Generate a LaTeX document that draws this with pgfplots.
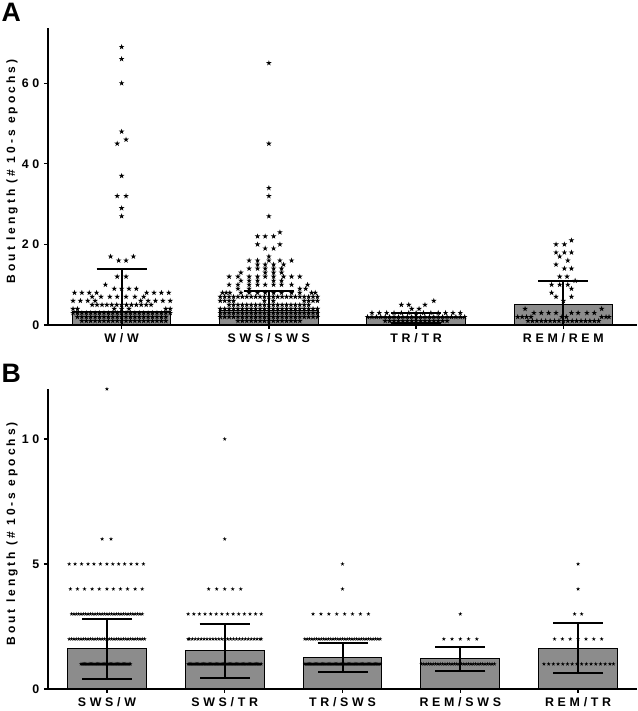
\documentclass[border=0pt]{standalone}
\usepackage{fontspec}
\setmainfont{Liberation Sans}
\newfontfamily\lsx[LetterSpace=30]{Liberation Sans Bold}
\newfontfamily\lsy[LetterSpace=25]{Liberation Sans Bold}
\usepackage{pgfplots}
\pgfplotsset{compat=1.18}
\definecolor{barfill}{RGB}{140,140,140}
\pgfdeclareplotmark{fstar}{%
  \pgfpathmoveto{\pgfqpoint{0pt}{\pgfplotmarksize}}%
  \pgfpathlineto{\pgfqpoint{-0.2245\pgfplotmarksize}{0.309\pgfplotmarksize}}%
  \pgfpathlineto{\pgfqpoint{-0.951\pgfplotmarksize}{0.309\pgfplotmarksize}}%
  \pgfpathlineto{\pgfqpoint{-0.3633\pgfplotmarksize}{-0.118\pgfplotmarksize}}%
  \pgfpathlineto{\pgfqpoint{-0.588\pgfplotmarksize}{-0.809\pgfplotmarksize}}%
  \pgfpathlineto{\pgfqpoint{0pt}{-0.382\pgfplotmarksize}}%
  \pgfpathlineto{\pgfqpoint{0.588\pgfplotmarksize}{-0.809\pgfplotmarksize}}%
  \pgfpathlineto{\pgfqpoint{0.3633\pgfplotmarksize}{-0.118\pgfplotmarksize}}%
  \pgfpathlineto{\pgfqpoint{0.951\pgfplotmarksize}{0.309\pgfplotmarksize}}%
  \pgfpathlineto{\pgfqpoint{0.2245\pgfplotmarksize}{0.309\pgfplotmarksize}}%
  \pgfpathclose\pgfusepathqfill}
\pgfplotsset{panel/.style={
  scale only axis, width=441.75pt,
  axis x line*=bottom, axis y line*=left,
  axis line style={line width=1pt,-},
  xmin=-0.5, ymin=0,
  tick align=outside, major tick length=3pt,
  tick style={line width=1pt, black},
  tick label style={font=\lsx\fontsize{9.3}{10}\selectfont},
  /pgf/number format/assume math mode=true,
  ylabel={Bout length (\# 10-s epochs)},
  ylabel style={font=\lsy\fontsize{9}{10}\selectfont, at={(axis description cs:-0.061,0.517)}, anchor=center},
  clip mode=individual,
}}
\begin{document}
\begin{tikzpicture}
\path[use as bounding box] (0,0) rectangle (477.75pt,533.25pt);
\node[anchor=base west, inner sep=0pt, font=\bfseries\fontsize{20}{20}\selectfont] at (1pt,516.75pt) {A};
\node[anchor=base west, inner sep=0pt, font=\bfseries\fontsize{20}{20}\selectfont] at (1pt,246pt) {B};
% ---------------- Panel A
\begin{axis}[panel, at={(36pt,289.5pt)}, anchor=south west, height=222.75pt,
  xmax=3.5, ymax=73.7, xtick={0,1,2,3}, xticklabels={W/W,SWS/SWS,TR/TR,REM/REM},
  ytick={0,20,40,60}]
\addplot[ybar, bar width=0.67, bar shift=0pt, fill=barfill, draw=black, line width=0.75pt]
  coordinates {(0,3.3)(1,3.5)(2,1.75)(3,5.2)};
% W/W
\addplot[only marks, mark=fstar, mark size=2.2pt, black] coordinates {
(0,69)(0,66)(0,60)(0,48)(0.03,46)(-0.03,45)(0,37)(-0.03,32)(0.03,32)(0,29)(0,27)
(-0.075,17)(0.08,17)(-0.02,16)(0.03,16)(-0.03,12)(0.03,12)(-0.11,10)
(-0.05,9)(0,9)(0.05,9)(0.1,9)
(-0.32,8)(-0.27,8)(-0.22,8)(-0.17,8)(0.17,8)(0.22,8)(0.27,8)(0.32,8)
(-0.2,7)(-0.14,7)(-0.08,7)(-0.03,7)(0.03,7)(0.09,7)(0.15,7)
(-0.33,6)(-0.28,6)(-0.23,6)(-0.18,6)(0.13,6)(0.18,6)(0.23,6)(0.28,6)(0.33,6)
(-0.2,5)(-0.167,5)(-0.133,5)(-0.1,5)(-0.067,5)(-0.033,5)(0,5)(0.033,5)(0.067,5)(0.1,5)(0.133,5)(0.167,5)(0.2,5)
(-0.33,4)(-0.3,4)(-0.05,4)(0,4)(0.05,4)(0.3,4)(0.33,4)
(-0.33,3)(-0.3,3)(-0.27,3)(-0.24,3)(-0.21,3)(-0.18,3)(-0.15,3)(-0.12,3)(-0.09,3)(-0.06,3)(-0.03,3)(0,3)(0.03,3)(0.06,3)(0.09,3)(0.12,3)(0.15,3)(0.18,3)(0.21,3)(0.24,3)(0.27,3)(0.3,3)(0.33,3)
(-0.3,2)(-0.27,2)(-0.24,2)(-0.21,2)(-0.18,2)(-0.15,2)(-0.12,2)(-0.09,2)(-0.06,2)(-0.03,2)(0,2)(0.03,2)(0.06,2)(0.09,2)(0.12,2)(0.15,2)(0.18,2)(0.21,2)(0.24,2)(0.27,2)(0.3,2)
(-0.27,1)(-0.24,1)(-0.21,1)(-0.18,1)(-0.15,1)(-0.12,1)(-0.09,1)(-0.06,1)(-0.03,1)(0,1)(0.03,1)(0.06,1)(0.09,1)(0.12,1)(0.15,1)(0.18,1)(0.21,1)(0.24,1)(0.27,1)(0.3,1)
};
% SWS/SWS
\addplot[only marks, mark=fstar, mark size=2.2pt, black] coordinates {
(1,65)(1,45)(1,34)(1,32)(1,27)(1.075,23)(0.923,22)(0.975,22)(1.032,22)(0.923,20)(1.075,20)(0.975,19)(1.032,19)(1,17)
(0.866,16)(0.923,16)(1,16)(1.075,16)(1.154,16)
(0.923,15)(0.975,15)(1.032,15)(1.1,15)
(0.866,14)(0.923,14)(0.975,14)(1.032,14)(1.086,14)
(0.81,13)(0.975,13)(1.032,13)(1.086,13)
(0.73,12)(0.79,12)(0.866,12)(0.923,12)(0.975,12)(1.032,12)(1.1,12)(1.154,12)(1.21,12)
(0.81,11)(0.866,11)(0.923,11)(1.032,11)(1.086,11)
(0.73,10)(0.79,10)(0.866,10)(0.923,10)(0.975,10)(1.032,10)(1.086,10)(1.154,10)(1.263,10)
(0.79,9)(0.866,9)(1.21,9)(1.25,9)
(0.685,8)(0.71,8)(0.735,8)(0.81,8)(0.866,8)(0.923,8)(0.975,8)(1.032,8)(1.086,8)(1.154,8)(1.21,8)(1.29,8)(1.315,8)
(0.67,7)(0.7,7)(0.73,7)(0.76,7)(0.79,7)(0.82,7)(0.85,7)(0.88,7)(0.91,7)(0.94,7)(0.97,7)(1,7)(1.03,7)(1.06,7)(1.09,7)(1.12,7)(1.15,7)(1.18,7)(1.21,7)(1.24,7)(1.27,7)(1.3,7)(1.33,7)
(0.67,6)(0.7,6)(0.73,6)(0.76,6)(0.97,6)(1.03,6)(1.24,6)(1.27,6)(1.3,6)(1.33,6)
(0.73,5)(0.76,5)(0.79,5)(0.82,5)(0.85,5)(0.88,5)(0.91,5)(0.94,5)(0.97,5)(1,5)(1.03,5)(1.06,5)(1.09,5)(1.12,5)(1.15,5)(1.18,5)(1.21,5)(1.24,5)(1.27,5)
(0.67,4)(0.7,4)(0.73,4)(0.76,4)(0.79,4)(0.82,4)(0.85,4)(0.88,4)(0.91,4)(0.94,4)(0.97,4)(1,4)(1.03,4)(1.06,4)(1.09,4)(1.12,4)(1.15,4)(1.18,4)(1.21,4)(1.24,4)(1.27,4)(1.3,4)(1.33,4)
(0.67,3)(0.7,3)(0.73,3)(0.76,3)(0.79,3)(0.82,3)(0.85,3)(0.88,3)(0.91,3)(0.94,3)(0.97,3)(1,3)(1.03,3)(1.06,3)(1.09,3)(1.12,3)(1.15,3)(1.18,3)(1.21,3)(1.24,3)(1.27,3)(1.3,3)(1.33,3)
(0.67,2)(0.7,2)(0.73,2)(0.76,2)(0.79,2)(0.82,2)(0.85,2)(0.88,2)(0.91,2)(0.94,2)(0.97,2)(1,2)(1.03,2)(1.06,2)(1.09,2)(1.12,2)(1.15,2)(1.18,2)(1.21,2)(1.24,2)(1.27,2)(1.3,2)(1.33,2)
(0.79,1)(0.82,1)(0.85,1)(0.88,1)(0.91,1)(0.94,1)(0.97,1)(1,1)(1.03,1)(1.06,1)(1.09,1)(1.12,1)(1.15,1)(1.18,1)(1.21,1)
};
% TR/TR
\addplot[only marks, mark=fstar, mark size=2.2pt, black] coordinates {
(2.12,6)(1.9,5)(1.95,5)(2.06,5)(1.97,4)(2.02,4)
(1.7,3)(1.75,3)(1.8,3)(1.85,3)(1.9,3)(1.95,3)(2,3)(2.05,3)(2.1,3)(2.15,3)(2.2,3)(2.25,3)(2.3,3)
(1.67,2)(1.7,2)(1.73,2)(1.76,2)(1.79,2)(1.82,2)(1.85,2)(1.88,2)(1.91,2)(1.94,2)(1.97,2)(2,2)(2.03,2)(2.06,2)(2.09,2)(2.12,2)(2.15,2)(2.18,2)(2.21,2)(2.24,2)(2.27,2)(2.3,2)(2.33,2)
(1.79,1)(1.82,1)(1.85,1)(1.88,1)(1.91,1)(1.94,1)(1.97,1)(2,1)(2.03,1)(2.06,1)(2.09,1)(2.12,1)(2.15,1)(2.18,1)(2.21,1)
};
% REM/REM
\addplot[only marks, mark=fstar, mark size=2.2pt, black] coordinates {
(3.055,21)(2.95,20)(3.007,20)(2.95,18)(3.007,18)(3.055,18)(2.975,17)(3.03,16)(2.95,15)(3.007,14)(3.055,14)
(2.975,12)(3.025,12)(3.08,11)(2.92,10)(2.975,10)(3.03,10)(3.055,9)(2.92,8)(2.95,7)(3.055,7)(3,6)
(2.74,4)(3.26,4)
(2.8,3)(2.85,3)(2.9,3)(2.95,3)(3.055,3)(3.1,3)(3.16,3)(3.21,3)
(2.69,2)(2.72,2)(2.75,2)(2.78,2)(2.99,2)(3.02,2)(3.26,2)(3.29,2)(3.31,2)
(2.76,1)(2.79,1)(2.82,1)(2.85,1)(2.88,1)(2.91,1)(2.94,1)(2.97,1)(3,1)(3.03,1)(3.06,1)(3.09,1)(3.12,1)(3.15,1)(3.18,1)(3.21,1)(3.24,1)
};
\addplot[draw=none, mark=none, forget plot,
  error bars/.cd, y dir=both, y explicit,
  error bar style={draw=black, line width=1.5pt},
  error mark options={rotate=90, mark size=18.75pt, draw=black, line width=1.5pt}]
  coordinates {(0,3.3) +- (0,10.6) (1,3.5) +- (0,4.9) (2,1.75) +- (0,1.2) (3,5.2) +- (0,5.7)};
\end{axis}
% ---------------- Panel B
\begin{axis}[panel, at={(36pt,16.5pt)}, anchor=south west, height=225pt,
  xmax=4.5, ymax=12, xtick={0,1,2,3,4}, xticklabels={SWS/W,SWS/TR,TR/SWS,REM/SWS,REM/TR},
  ytick={0,5,10}]
\addplot[ybar, bar width=0.67, bar shift=0pt, fill=barfill, draw=black, line width=0.75pt]
  coordinates {(0,1.6)(1,1.52)(2,1.25)(3,1.2)(4,1.62)};
% SWS/W
\addplot[only marks, mark=fstar, mark size=1.6pt, black] coordinates {
(0,12)(-0.04,6)(0.035,6)
(-0.32,5)(-0.27,5)(-0.215,5)(-0.16,5)(-0.11,5)(-0.055,5)(0,5)(0.05,5)(0.1,5)(0.15,5)(0.205,5)(0.255,5)(0.31,5)
(-0.31,4)(-0.25,4)(-0.19,4)(-0.125,4)(-0.065,4)(0,4)(0.055,4)(0.115,4)(0.175,4)(0.24,4)(0.3,4)
(-0.3,3)(-0.28,3)(-0.26,3)(-0.24,3)(-0.22,3)(-0.2,3)(-0.18,3)(-0.16,3)(-0.14,3)(-0.12,3)(-0.1,3)(-0.08,3)(-0.06,3)(-0.04,3)(-0.02,3)(0,3)(0.02,3)(0.04,3)(0.06,3)(0.08,3)(0.1,3)(0.12,3)(0.14,3)(0.16,3)(0.18,3)(0.2,3)(0.22,3)(0.24,3)(0.26,3)(0.28,3)(0.3,3)
(-0.32,2)(-0.3,2)(-0.28,2)(-0.26,2)(-0.24,2)(-0.22,2)(-0.2,2)(-0.18,2)(-0.16,2)(-0.14,2)(-0.12,2)(-0.1,2)(-0.08,2)(-0.06,2)(-0.04,2)(-0.02,2)(0,2)(0.02,2)(0.04,2)(0.06,2)(0.08,2)(0.1,2)(0.12,2)(0.14,2)(0.16,2)(0.18,2)(0.2,2)(0.22,2)(0.24,2)(0.26,2)(0.28,2)(0.3,2)(0.32,2)
(-0.22,1)(-0.21,1)(-0.2,1)(-0.19,1)(-0.18,1)(-0.17,1)(-0.16,1)(-0.15,1)(-0.14,1)(-0.13,1)(-0.12,1)(-0.11,1)(-0.1,1)(-0.09,1)(-0.08,1)(-0.07,1)(-0.06,1)(-0.05,1)(-0.04,1)(-0.03,1)(-0.02,1)(-0.01,1)(0,1)(0.01,1)(0.02,1)(0.03,1)(0.04,1)(0.05,1)(0.06,1)(0.07,1)(0.08,1)(0.09,1)(0.1,1)(0.11,1)(0.12,1)(0.13,1)(0.14,1)(0.15,1)(0.16,1)(0.17,1)(0.18,1)(0.19,1)(0.2,1)
};
% SWS/TR
\addplot[only marks, mark=fstar, mark size=1.6pt, black] coordinates {
(1,10)(1,6)
(0.864,4)(0.932,4)(1,4)(1.068,4)(1.136,4)
(0.69,3)(0.738,3)(0.785,3)(0.833,3)(0.881,3)(0.928,3)(0.976,3)(1.024,3)(1.072,3)(1.119,3)(1.167,3)(1.215,3)(1.262,3)(1.31,3)
(0.69,2)(0.7,2)(0.725,2)(0.75,2)(0.775,2)(0.8,2)(0.825,2)(0.85,2)(0.875,2)(0.9,2)(0.925,2)(0.95,2)(0.975,2)(1,2)(1.025,2)(1.05,2)(1.075,2)(1.1,2)(1.125,2)(1.15,2)(1.175,2)(1.2,2)(1.225,2)(1.25,2)(1.275,2)(1.3,2)(1.31,2)
(0.69,1)(0.7,1)(0.71,1)(0.72,1)(0.73,1)(0.74,1)(0.75,1)(0.76,1)(0.77,1)(0.78,1)(0.79,1)(0.8,1)(0.81,1)(0.82,1)(0.83,1)(0.84,1)(0.85,1)(0.86,1)(0.87,1)(0.88,1)(0.89,1)(0.9,1)(0.91,1)(0.92,1)(0.93,1)(0.94,1)(0.95,1)(0.96,1)(0.97,1)(0.98,1)(0.99,1)(1,1)(1.01,1)(1.02,1)(1.03,1)(1.04,1)(1.05,1)(1.06,1)(1.07,1)(1.08,1)(1.09,1)(1.1,1)(1.11,1)(1.12,1)(1.13,1)(1.14,1)(1.15,1)(1.16,1)(1.17,1)(1.18,1)(1.19,1)(1.2,1)(1.21,1)(1.22,1)(1.23,1)(1.24,1)(1.25,1)(1.26,1)(1.27,1)(1.28,1)(1.29,1)(1.3,1)(1.31,1)
};
% TR/SWS
\addplot[only marks, mark=fstar, mark size=1.6pt, black] coordinates {
(2,5)(2,4)
(1.75,3)(1.817,3)(1.884,3)(1.951,3)(2.018,3)(2.085,3)(2.152,3)(2.22,3)
(1.68,2)(1.7,2)(1.72,2)(1.74,2)(1.76,2)(1.78,2)(1.8,2)(1.82,2)(1.84,2)(1.86,2)(1.88,2)(1.9,2)(1.92,2)(1.94,2)(1.96,2)(1.98,2)(2,2)(2.02,2)(2.04,2)(2.06,2)(2.08,2)(2.1,2)(2.12,2)(2.14,2)(2.16,2)(2.18,2)(2.2,2)(2.22,2)(2.24,2)(2.26,2)(2.28,2)(2.3,2)(2.32,2)
(1.68,1)(1.69,1)(1.7,1)(1.71,1)(1.72,1)(1.73,1)(1.74,1)(1.75,1)(1.76,1)(1.77,1)(1.78,1)(1.79,1)(1.8,1)(1.81,1)(1.82,1)(1.83,1)(1.84,1)(1.85,1)(1.86,1)(1.87,1)(1.88,1)(1.89,1)(1.9,1)(1.91,1)(1.92,1)(1.93,1)(1.94,1)(1.95,1)(1.96,1)(1.97,1)(1.98,1)(1.99,1)(2,1)(2.01,1)(2.02,1)(2.03,1)(2.04,1)(2.05,1)(2.06,1)(2.07,1)(2.08,1)(2.09,1)(2.1,1)(2.11,1)(2.12,1)(2.13,1)(2.14,1)(2.15,1)(2.16,1)(2.17,1)(2.18,1)(2.19,1)(2.2,1)(2.21,1)(2.22,1)(2.23,1)(2.24,1)(2.25,1)(2.26,1)(2.27,1)(2.28,1)(2.29,1)(2.3,1)(2.31,1)(2.32,1)
};
% REM/SWS
\addplot[only marks, mark=fstar, mark size=1.6pt, black] coordinates {
(3,3)
(2.86,2)(2.93,2)(3,2)(3.07,2)(3.14,2)
(2.67,1)(2.69,1)(2.71,1)(2.73,1)(2.75,1)(2.77,1)(2.79,1)(2.81,1)(2.83,1)(2.85,1)(2.87,1)(2.89,1)(2.91,1)(2.93,1)(2.95,1)(2.97,1)(2.99,1)(3.01,1)(3.03,1)(3.05,1)(3.07,1)(3.09,1)(3.11,1)(3.13,1)(3.15,1)(3.17,1)(3.19,1)(3.21,1)(3.23,1)(3.25,1)(3.27,1)(3.29,1)
};
% REM/TR
\addplot[only marks, mark=fstar, mark size=1.6pt, black] coordinates {
(4,5)(4,4)(3.97,3)(4.03,3)
(3.8,2)(3.867,2)(3.933,2)(4,2)(4.067,2)(4.133,2)(4.2,2)
(3.71,1)(3.75,1)(3.79,1)(3.83,1)(3.87,1)(3.91,1)(3.95,1)(3.99,1)(4.03,1)(4.07,1)(4.11,1)(4.15,1)(4.19,1)(4.23,1)(4.27,1)(4.3,1)
};
\addplot[draw=none, mark=none, forget plot,
  error bars/.cd, y dir=both, y explicit,
  error bar style={draw=black, line width=1.5pt},
  error mark options={rotate=90, mark size=18.75pt, draw=black, line width=1.5pt}]
  coordinates {(0,1.6) +- (0,1.2) (1,1.52) +- (0,1.08) (2,1.25) +- (0,0.57) (3,1.2) +- (0,0.48) (4,1.62) +- (0,1.0)};
\end{axis}
\end{tikzpicture}
\end{document}
